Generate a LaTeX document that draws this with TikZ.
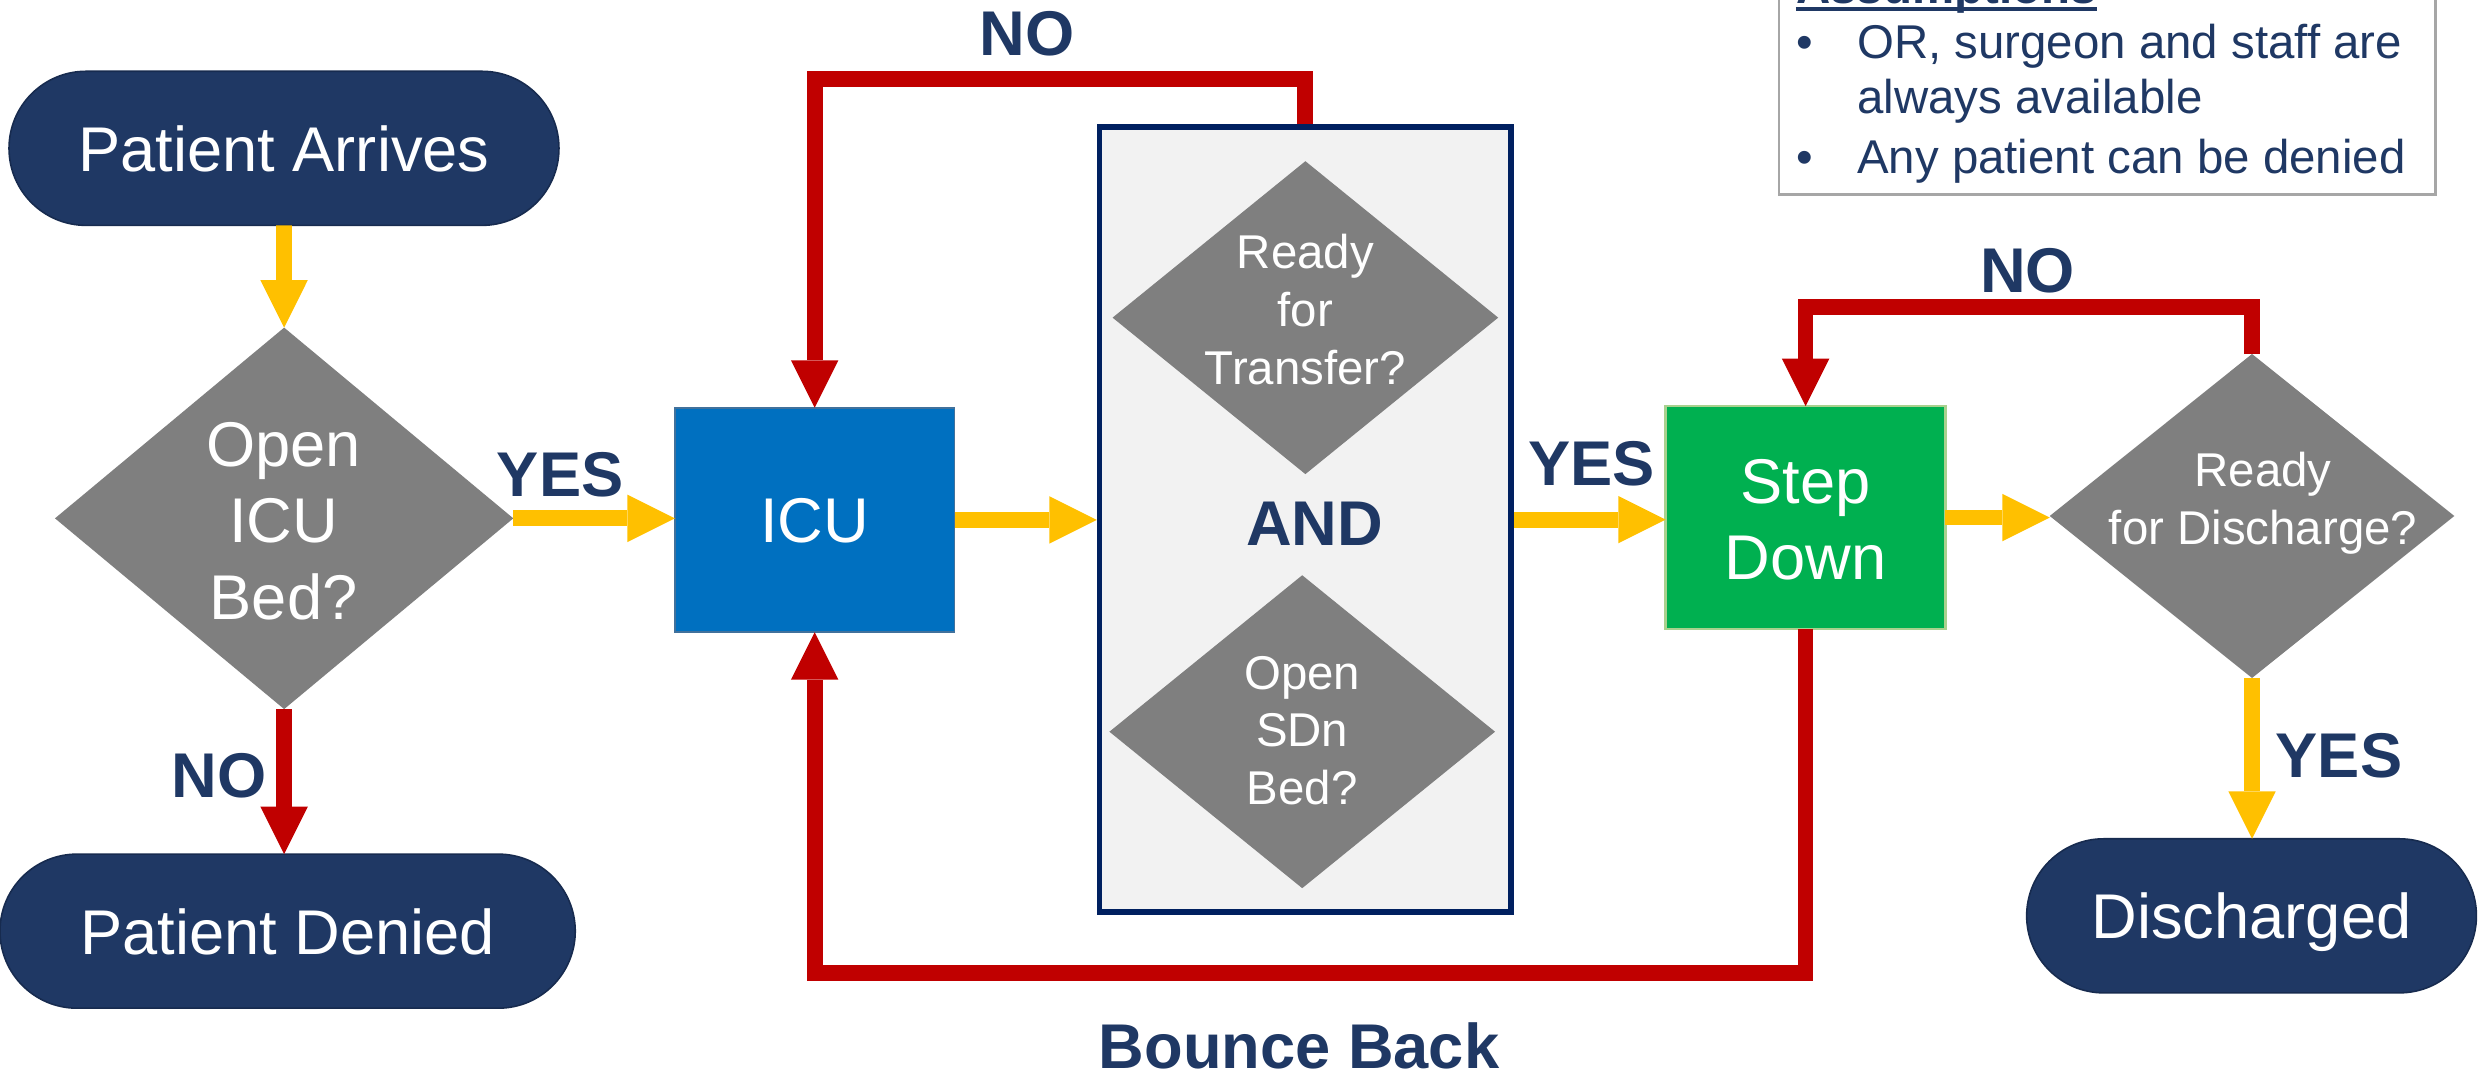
\documentclass[tikz,border=0pt]{standalone}
\usepackage{fontspec}
\setmainfont{Liberation Sans}
\usetikzlibrary{arrows.meta,shapes.geometric,shapes.misc}

\definecolor{navy}{HTML}{1F3864}
\definecolor{navyedge}{HTML}{172B4F}
\definecolor{flowyellow}{HTML}{FFC000}
\definecolor{backred}{HTML}{C00000}
\definecolor{qgray}{HTML}{7F7F7F}
\definecolor{icublue}{HTML}{0070C0}
\definecolor{icuedge}{HTML}{41719C}
\definecolor{sdgreen}{HTML}{00B050}
\definecolor{sdedge}{HTML}{A9D18E}
\definecolor{gatefill}{HTML}{F2F2F2}
\definecolor{gateedge}{HTML}{002060}
\definecolor{notegray}{HTML}{A6A6A6}

\begin{document}
\begin{tikzpicture}[x=1pt,y=-1pt,
  pill/.style={rounded rectangle, fill=navy, draw=navyedge, line width=1pt,
    inner sep=0pt, outer sep=0pt, minimum height=97.5pt, text=white,
    font=\fontsize{40}{48}\selectfont, text height=29pt, text depth=0pt},
  decision/.style={diamond, fill=qgray, inner sep=0pt, outer sep=0pt},
  proc/.style={rectangle, inner sep=0pt, outer sep=0pt, text=white,
    font=\fontsize{40}{48}\selectfont, text height=29pt, text depth=0pt},
  % multi-line texts are placed by the baseline of their last line
  bigtext/.style={text=white, align=center, anchor=base, inner sep=0pt,
    font=\fontsize{40}{48.4}\selectfont},
  qtext/.style={text=white, align=center, anchor=base, inner sep=0pt,
    font=\fontsize{30}{36.5}\selectfont},
  lab/.style={text=navy, anchor=base, inner sep=0pt,
    font=\bfseries\fontsize{40}{48}\selectfont},
  notetext/.style={text=navy, anchor=base west, inner sep=0pt,
    font=\fontsize{30}{36}\selectfont},
  flow/.style={draw=flowyellow, line width=10pt,
    -{Triangle[width=30pt,length=30pt,line width=0pt]}},
  back/.style={draw=backred, line width=10pt, line join=miter,
    -{Triangle[width=30pt,length=30pt,line width=0pt]}},
]
\useasboundingbox (0,0) rectangle (1568,679);

% terminals
\node[pill, minimum width=348pt] (pa) at (179.7,93.85) {Patient Arrives};
\node[pill, minimum width=364pt] (pd) at (182,589.2) {Patient Denied};
\node[pill, minimum width=284.6pt] (dis) at (1424.7,579.5) {Discharged};

% first decision
\node[decision, minimum width=290pt, minimum height=241.4pt] (q1) at (179.8,328) {};
\node[bigtext] (q1t) at (179.4,391.8) {Open\\ICU\\Bed?};

% ICU
\node[proc, fill=icublue, draw=icuedge, line width=1pt,
  minimum width=177pt, minimum height=142pt] (icu) at (515.5,329) {ICU};

% combined transfer test
\node[rectangle, fill=gatefill, draw=gateedge, line width=3.6pt, inner sep=0pt,
  minimum width=260.4pt, minimum height=496.8pt] (gate) at (826,328.8) {};
\node[decision, minimum width=244pt, minimum height=198pt] (qt) at (826,201) {};
\node[qtext] (qtt) at (826,243) {Ready\\for\\Transfer?};
\node[lab] (andt) at (831.8,345) {AND};
\node[decision, minimum width=244pt, minimum height=198pt] (qs) at (824,463) {};
\node[qtext] (qst) at (824,509) {Open\\SDn\\Bed?};

% step down
\node[proc, fill=sdgreen, draw=sdedge, line width=1.7pt,
  minimum width=177pt, minimum height=141pt] (sd) at (1142.5,327.5) {};
\node[bigtext] (sdt) at (1142.5,367) {Step\\Down};

% discharge decision
\node[decision, minimum width=256pt, minimum height=205pt] (qd) at (1425,326.5) {};
\node[qtext, font=\fontsize{30}{36.6}\selectfont] (qdt) at (1432,344.6) {Ready\\for Discharge?};

% assumptions note
\node[rectangle, draw=notegray, fill=white, line width=1.5pt, inner sep=0pt,
  minimum width=415.4pt, minimum height=170pt, anchor=south west] (note) at (1124.9,123.8) {};
\node[anchor=base west, inner sep=0pt, text=navy,
  font=\bfseries\fontsize{30}{36}\selectfont] (noteh) at (1136.4,2) {Assumptions};
\draw[navy, line width=2.5pt] ([yshift=-3.5pt]noteh.base west) -- ([yshift=-3.5pt]noteh.base east);
\node[notetext, anchor=base] (bul1) at (1142,36.9) {•};
\node[notetext] (n1) at (1175,36.9) {OR, surgeon and staff are};
\node[notetext] (n2) at (1175,71.7) {always available};
\node[notetext, anchor=base] (bul2) at (1142,109.7) {•};
\node[notetext] (n3) at (1175,109.7) {Any patient can be denied};

% loop levels
\coordinate (noleft) at (0,50);
\coordinate (noright) at (0,194.4);
\coordinate (bounce) at (0,615.6);

% main flow
\draw[flow] (pa.south) -- (q1.north);
\draw[flow] (q1.east) -- (q1.east -| icu.west);
\draw[flow] (icu.east) -- (icu.east -| gate.west);
\draw[flow] (gate.east) -- (gate.east -| sd.west);
\draw[flow] (sd.east) -- (sd.east -| qd.west);
\draw[flow] (qd.south) -- (qd.south |- dis.north);

% negative branches and bounce back
\draw[back] (q1.south) -- (q1.south |- pd.north);
\draw[back] (gate.north) -- (gate.north |- noleft) -| (icu.north);
\draw[back] (qd.north) -- (qd.north |- noright) -| (sd.north);
\draw[back] (sd.south) -- (sd.south |- bounce) -| (icu.south);

% branch labels
\node[lab] (yes1) at (354.5,314) {YES};
\node[lab] (no1) at (138.7,504.5) {NO};
\node[lab] (no2) at (650,35) {NO};
\node[lab] (yes2) at (1007,307) {YES};
\node[lab] (no3) at (1283,185) {NO};
\node[lab] (yes3) at (1480,492) {YES};
\node[lab] (bb) at (822,676) {Bounce Back};
\end{tikzpicture}
\end{document}
